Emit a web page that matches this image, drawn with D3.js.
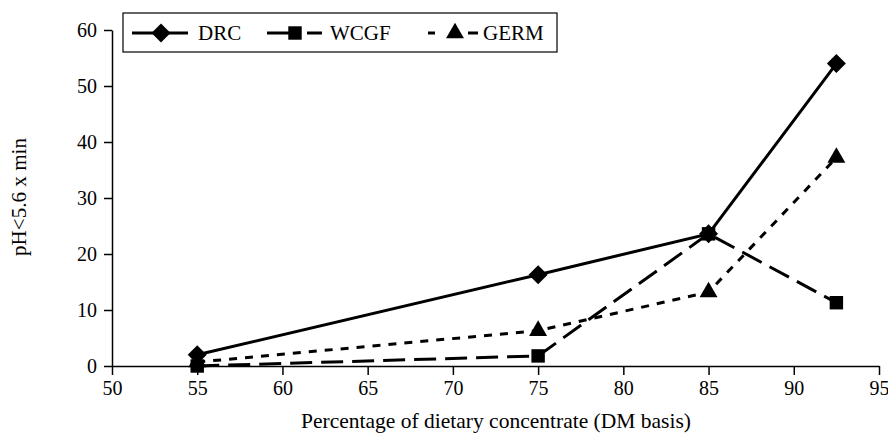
<!DOCTYPE html>
<html>
<head>
<meta charset="utf-8">
<script src="https://cdn.jsdelivr.net/npm/d3@7"></script>
<style>
  body { margin: 0; background: #fff; }
  svg text { font-family: 'Liberation Serif', 'Times New Roman', serif !important; }
</style>
</head>
<body>
<div id="plot"></div>
<script>
// Chart data
const concentrate = [55, 75, 85, 92.5];
const drc = [2, 16.3, 23.6, 54];
const wcgf = [0, 1.8, 23.6, 11.3];
const germ = [0.7, 6.3, 13.2, 37.2];
const xTicks = [50, 55, 60, 65, 70, 75, 80, 85, 90, 95];
const yTicks = [0, 10, 20, 30, 40, 50, 60];

const seriesList = [
  { name: "DRC", values: drc, dash: null, symbol: d3.symbolDiamond2,
    legendLine: [132, 188], legendDash: null, markX: 161, textX: 198 },
  { name: "WCGF", values: wcgf, dash: "22,9", symbol: d3.symbolSquare2,
    legendLine: [267, 322], legendDash: "22,18,20", markX: 295, textX: 330 },
  { name: "GERM", values: germ, dash: "8,8", symbol: d3.symbolTriangle2,
    legendLine: [428, 478], legendDash: "7,33,10", markX: 455, textX: 483 }
];

const W = 888, H = 436;
const svg = d3.select("#plot").append("svg")
  .attr("width", W)
  .attr("height", H);

const xScale = d3.scaleLinear().domain([50, 95]).range([112, 879]);
const yScale = d3.scaleLinear().domain([0, 60]).range([366, 30]);

// axes
const xAxis = svg.append("g")
  .attr("transform", `translate(0, ${yScale(0)})`)
  .call(d3.axisBottom(xScale).tickValues(xTicks).tickSize(9).tickSizeOuter(0).tickPadding(6));
const yAxis = svg.append("g")
  .attr("transform", `translate(${xScale(50)}, 0)`)
  .call(d3.axisLeft(yScale).tickValues(yTicks).tickSize(8).tickSizeOuter(0).tickPadding(7));

[xAxis, yAxis].forEach(a => {
  a.attr("font-size", 20);
  a.select(".domain").attr("stroke", "#000").attr("stroke-width", 1.5);
  a.selectAll(".tick line").attr("stroke", "#000").attr("stroke-width", 1.5);
  a.selectAll(".tick text").attr("fill", "#000");
});

// labels
svg.append("text")
  .attr("x", 496)
  .attr("y", 428)
  .attr("text-anchor", "middle")
  .attr("font-size", 21)
  .attr("textLength", 390)
  .attr("lengthAdjust", "spacingAndGlyphs")
  .text("Percentage of dietary concentrate (DM basis)");

svg.append("text")
  .attr("transform", `translate(26, 197) rotate(-90)`)
  .attr("text-anchor", "middle")
  .attr("font-size", 21)
  .attr("textLength", 118)
  .attr("lengthAdjust", "spacingAndGlyphs")
  .text("pH<5.6 x min");

// lines
const line = d3.line()
  .x((d, i) => xScale(concentrate[i]))
  .y(d => yScale(d));

seriesList.forEach(s => {
  svg.append("path")
    .datum(s.values)
    .attr("fill", "none")
    .attr("stroke", "#000")
    .attr("stroke-width", 3)
    .attr("stroke-dasharray", s.dash)
    .attr("d", line);

  svg.selectAll(null)
    .data(s.values)
    .join("path")
    .attr("transform", (d, i) => `translate(${xScale(concentrate[i])}, ${yScale(d)})`)
    .attr("d", d3.symbol().type(s.symbol).size(230))
    .attr("fill", "#000");
});

// legend
const legend = svg.append("g");
legend.append("rect")
  .attr("x", 123).attr("y", 13)
  .attr("width", 434).attr("height", 39)
  .attr("fill", "#fff")
  .attr("stroke", "#000")
  .attr("stroke-width", 1.2);

seriesList.forEach(s => {
  legend.append("line")
    .attr("x1", s.legendLine[0]).attr("x2", s.legendLine[1])
    .attr("y1", 33).attr("y2", 33)
    .attr("stroke", "#000")
    .attr("stroke-width", 3)
    .attr("stroke-dasharray", s.legendDash);
  legend.append("path")
    .attr("transform", `translate(${s.markX}, 33)`)
    .attr("d", d3.symbol().type(s.symbol).size(230))
    .attr("fill", "#000");
  legend.append("text")
    .attr("x", s.textX)
    .attr("y", 40)
    .attr("font-size", 21)
    .text(s.name);
});
</script>
</body>
</html>
